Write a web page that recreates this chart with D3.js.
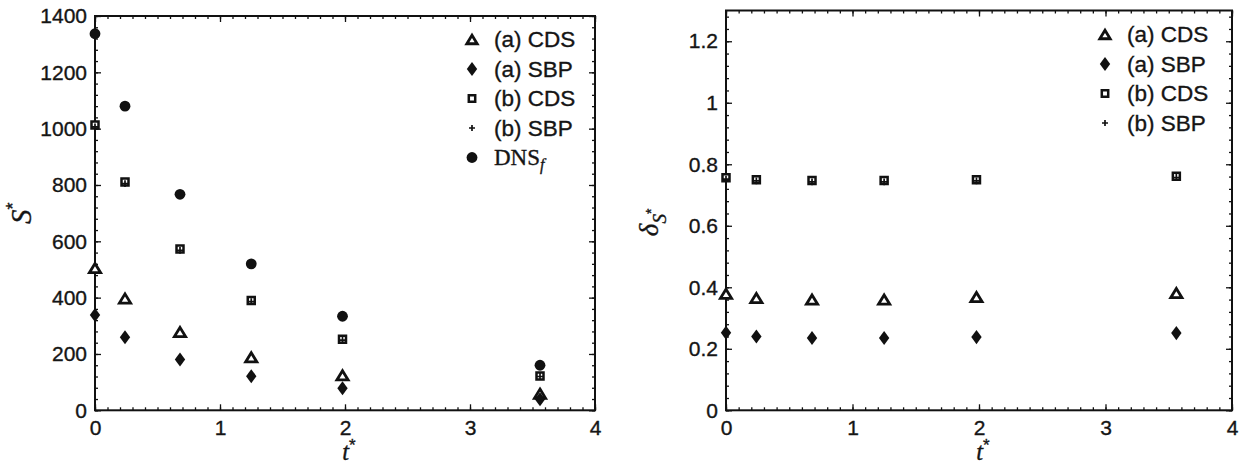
<!DOCTYPE html>
<html>
<head>
<meta charset="utf-8">
<script src="https://cdn.jsdelivr.net/npm/d3@7"></script>
<style>
    body { margin: 0; background: #fff; }
    svg text { fill: #151515; stroke: #151515; stroke-width: 0.35px; }
</style>
</head>
<body>
<div id="chart"></div>
<script>
// sampling times
const tStar = [0, 0.24, 0.68, 1.25, 1.98, 3.56];

// S* for each case
const sCdsA = [505, 397, 278, 188, 124, 59];
const sSbpA = [338, 259, 180, 121, 78, 39];
const sCdsB = [1013, 811, 573, 390, 252, 122];
const sSbpB = [1006, 805, 568, 386, 249, 120];
const sDns = [1337, 1080, 767, 520, 334, 160];

// delta_S* for each case
const dCdsA = [0.379, 0.365, 0.360, 0.360, 0.368, 0.381];
const dSbpA = [0.252, 0.240, 0.235, 0.235, 0.238, 0.251];
const dCdsB = [0.756, 0.750, 0.747, 0.747, 0.750, 0.761];
const dSbpB = [0.752, 0.746, 0.743, 0.743, 0.746, 0.757];

const xTicks = [0, 1, 2, 3, 4];
const sTicks = [0, 200, 400, 600, 800, 1000, 1200, 1400];
const dTicks = [0, 0.2, 0.4, 0.6, 0.8, 1, 1.2];

const width = 1247, height = 466;
const ink = "#111";
const sansFont = "'Liberation Sans', Arial, sans-serif";
const serifFont = "'Liberation Serif', 'DejaVu Serif', serif";

// marker shapes, size = half-width in px
const triangle = {
    draw(ctx, r) {
        ctx.moveTo(0, -r * 0.82);
        ctx.lineTo(r, r * 0.82);
        ctx.lineTo(-r, r * 0.82);
        ctx.closePath();
    }
};
const diamond = {
    draw(ctx, r) {
        ctx.moveTo(0, -r * 1.35);
        ctx.lineTo(r, 0);
        ctx.lineTo(0, r * 1.35);
        ctx.lineTo(-r, 0);
        ctx.closePath();
    }
};
const square = {
    draw(ctx, r) {
        ctx.rect(-r, -r, 2 * r, 2 * r);
    }
};
const plus = {
    draw(ctx, r) {
        ctx.moveTo(-r, 0);
        ctx.lineTo(r, 0);
        ctx.moveTo(0, -r);
        ctx.lineTo(0, r);
    }
};
const circle = {
    draw(ctx, r) {
        ctx.arc(0, 0, r, 0, 2 * Math.PI);
    }
};

const styles = {
    cdsA: { type: triangle, size: 5.6, fill: "#fff", stroke: ink, sw: 2.8 },
    sbpA: { type: diamond, size: 5.2, fill: ink, stroke: "none", sw: 0 },
    cdsB: { type: square, size: 3.5, fill: "#fff", stroke: ink, sw: 2.5 },
    sbpB: { type: plus, size: 3.4, fill: "none", stroke: ink, sw: 1.7 },
    dns: { type: circle, size: 5.4, fill: ink, stroke: "none", sw: 0 }
};

let svg = d3.select("#chart")
    .append("svg")
    .attr("width", width)
    .attr("height", height);

let drawMarker = (g, style, x, y) => {
    g.append("path")
        .attr("d", d3.symbol(style.type, style.size)())
        .attr("transform", `translate(${x},${y})`)
        .attr("fill", style.fill)
        .attr("stroke", style.stroke)
        .attr("stroke-width", style.sw);
};

let drawPanel = opts => {
    let g = svg.append("g");

    let x = d3.scaleLinear().domain([0, 4]).range(opts.xRange);
    let y = d3.scaleLinear().domain(opts.yDomain).range(opts.yRange);

    let xMinor = d3.range(0, 41, 1).map(d => d / 10);
    let yMinor = d3.range(0, Math.floor(opts.yDomain[1] / opts.yMinorStep + 1e-6) + 1, 1)
        .map(d => +(d * opts.yMinorStep).toFixed(4));

    let addAxis = (axis, transform, cls) => {
        let a = g.append("g")
            .attr("class", cls)
            .attr("transform", transform)
            .call(axis);
        a.select(".domain").remove();
        a.selectAll("line").attr("stroke", ink).attr("stroke-width", 1.3);
        a.selectAll("text")
            .style("font-family", sansFont)
            .style("font-size", "21px")
            .attr("fill", null);
        return a;
    };

    let [x0, x1] = opts.xRange;
    let [yb, yt] = opts.yRange;

    // minor ticks on every side
    addAxis(d3.axisBottom(x).tickValues(xMinor).tickSize(-3).tickFormat(""), `translate(0,${yb})`, "minor");
    addAxis(d3.axisTop(x).tickValues(xMinor).tickSize(-3).tickFormat(""), `translate(0,${yt})`, "minor");
    addAxis(d3.axisLeft(y).tickValues(yMinor).tickSize(-3).tickFormat(""), `translate(${x0},0)`, "minor");
    addAxis(d3.axisRight(y).tickValues(yMinor).tickSize(-3).tickFormat(""), `translate(${x1},0)`, "minor");

    // major ticks, labelled on bottom and left
    addAxis(d3.axisBottom(x).tickValues(xTicks).tickSize(-6).tickPadding(9.5).tickFormat(d3.format("d")),
        `translate(0,${yb})`, "major");
    addAxis(d3.axisTop(x).tickValues(xTicks).tickSize(-6).tickFormat(""), `translate(0,${yt})`, "major");
    addAxis(d3.axisLeft(y).tickValues(opts.yTicks).tickSize(-6).tickPadding(8).tickFormat(opts.yFormat),
        `translate(${x0},0)`, "major");
    addAxis(d3.axisRight(y).tickValues(opts.yTicks).tickSize(-6).tickFormat(""), `translate(${x1},0)`, "major");

    // frame
    g.append("rect")
        .attr("x", x0)
        .attr("y", yt)
        .attr("width", x1 - x0)
        .attr("height", yb - yt)
        .attr("fill", "none")
        .attr("stroke", ink)
        .attr("stroke-width", 2);

    // markers
    opts.series.forEach(s => {
        s.values.forEach((v, i) => drawMarker(g, styles[s.key], x(tStar[i]), y(v)));
    });

    // legend
    opts.series.forEach((s, i) => {
        let ly = opts.legend[1] + i * 29.5;
        let ls = Object.assign({}, styles[s.key]);
        if (s.key === "cdsB") ls.size = 3.2;
        if (s.key === "sbpB") ls.size = 3;
        if (s.key === "cdsA") ls.size = 5.2;
        drawMarker(g, ls, opts.legend[0], ly);
        let t = g.append("text")
            .attr("x", opts.legend[0] + 22)
            .attr("y", ly + 7.5);
        if (s.key === "dns") {
            t.style("font-family", serifFont).style("font-size", "23px");
            t.append("tspan").text("DNS");
            t.append("tspan").attr("dy", 5).style("font-style", "italic").style("font-size", "16px").text("f");
        } else {
            t.style("font-family", sansFont).style("font-size", "22.5px").text(s.name);
        }
    });

    // x title
    let xt = g.append("text")
        .attr("x", (x0 + x1) / 2 + 4)
        .attr("y", 460)
        .attr("text-anchor", "middle")
        .style("font-family", serifFont);
    xt.append("tspan").style("font-style", "italic").style("font-size", "24.5px").text("t");
    xt.append("tspan").attr("dy", -9).style("font-family", sansFont).style("font-size", "17px").text("*");

    opts.yTitle(g, (yb + yt) / 2);
};

drawPanel({
    xRange: [95, 595],
    yRange: [410.3, 16],
    yDomain: [0, 1400],
    yTicks: sTicks,
    yMinorStep: 40,
    yFormat: d3.format("d"),
    legend: [472, 39.5],
    series: [
        { key: "cdsA", name: "(a) CDS", values: sCdsA },
        { key: "sbpA", name: "(a) SBP", values: sSbpA },
        { key: "cdsB", name: "(b) CDS", values: sCdsB },
        { key: "sbpB", name: "(b) SBP", values: sSbpB },
        { key: "dns", name: "DNS_f", values: sDns }
    ],
    yTitle: (g, cy) => {
        let t = g.append("text")
            .attr("transform", `translate(31,${cy}) rotate(-90)`)
            .attr("text-anchor", "middle")
            .style("font-family", serifFont);
        t.append("tspan").style("font-style", "italic").style("font-size", "29px").text("S");
        t.append("tspan").attr("dy", -12).style("font-family", sansFont).style("font-size", "18px").text("*");
    }
});

drawPanel({
    xRange: [726, 1232],
    yRange: [410.3, 10.5],
    yDomain: [0, 1.3],
    yTicks: dTicks,
    yMinorStep: 0.04,
    yFormat: d => String(+d.toFixed(1)),
    legend: [1105, 34.5],
    series: [
        { key: "cdsA", name: "(a) CDS", values: dCdsA },
        { key: "sbpA", name: "(a) SBP", values: dSbpA },
        { key: "cdsB", name: "(b) CDS", values: dCdsB },
        { key: "sbpB", name: "(b) SBP", values: dSbpB }
    ],
    yTitle: (g, cy) => {
        let t = g.append("text")
            .attr("transform", `translate(658,${cy + 12}) rotate(-90)`)
            .attr("text-anchor", "middle")
            .style("font-family", serifFont);
        t.append("tspan").style("font-style", "italic").style("font-size", "27px").text("δ");
        t.append("tspan").attr("dy", 8).style("font-style", "italic").style("font-size", "19px").text("S");
        t.append("tspan").attr("dy", -10).style("font-family", sansFont).style("font-size", "14px").text("*");
    }
});
</script>
</body>
</html>
